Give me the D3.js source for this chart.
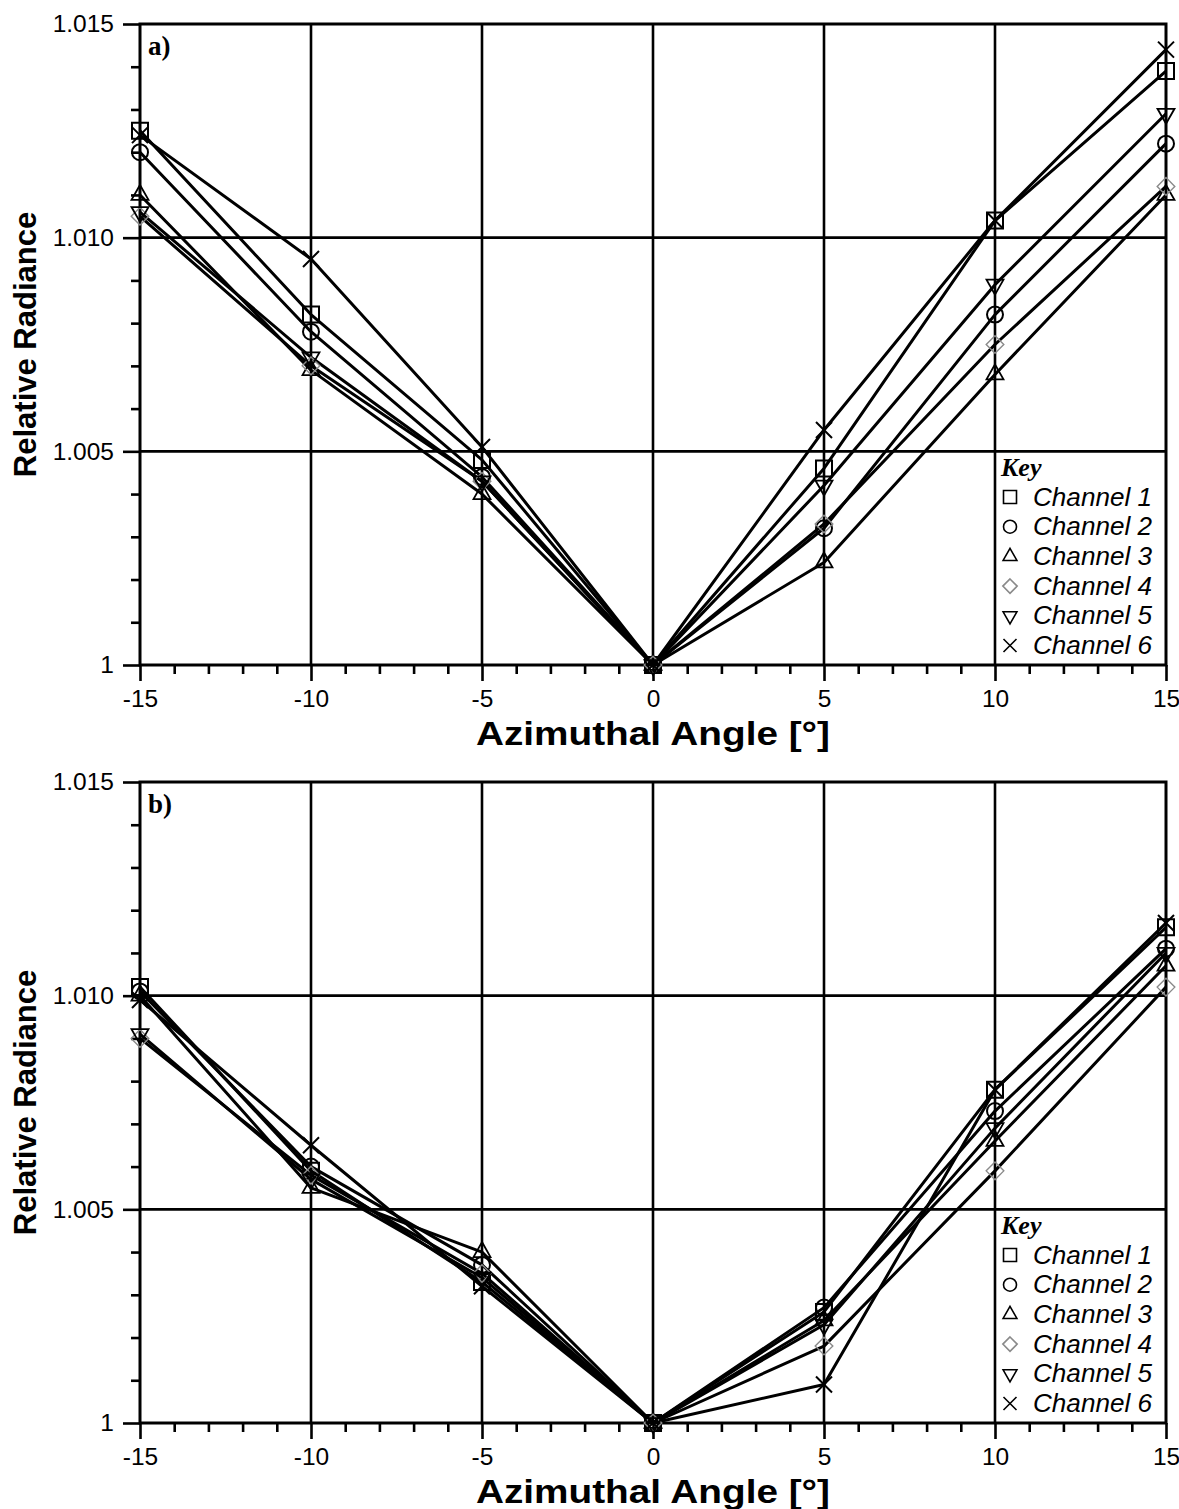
<!DOCTYPE html>
<html>
<head>
<meta charset="utf-8">
<script src="https://cdn.jsdelivr.net/npm/d3@7"></script>
<style>
  body { margin: 0; background: #fff; }
  svg { display: block; }
</style>
</head>
<body>
<svg id="chart" width="1179" height="1509"></svg>
<script>
// Azimuthal angle samples (degrees)
const angles = [-15, -10, -5, 0, 5, 10, 15];
const channelNames = ["Channel 1", "Channel 2", "Channel 3", "Channel 4", "Channel 5", "Channel 6"];

// Panel a) relative radiance per channel
const aChannel1 = [1.0125, 1.0082, 1.0048, 1, 1.0046, 1.0104, 1.0139];
const aChannel2 = [1.0120, 1.0078, 1.0044, 1, 1.0032, 1.0082, 1.0122];
const aChannel3 = [1.0110, 1.0069, 1.0040, 1, 1.0024, 1.0068, 1.0110];
const aChannel4 = [1.0105, 1.0070, 1.0043, 1, 1.0033, 1.0075, 1.0112];
const aChannel5 = [1.0106, 1.0072, 1.0043, 1, 1.0042, 1.0089, 1.0129];
const aChannel6 = [1.0124, 1.0095, 1.0051, 1, 1.0055, 1.0104, 1.0144];

// Panel b) relative radiance per channel
const bChannel1 = [1.0102, 1.0059, 1.0033, 1, 1.0026, 1.0078, 1.0116];
const bChannel2 = [1.0101, 1.0060, 1.0037, 1, 1.0027, 1.0073, 1.0111];
const bChannel3 = [1.0100, 1.0055, 1.0040, 1, 1.0024, 1.0066, 1.0107];
const bChannel4 = [1.0090, 1.0058, 1.0035, 1, 1.0018, 1.0059, 1.0102];
const bChannel5 = [1.0091, 1.0057, 1.0034, 1, 1.0023, 1.0069, 1.0110];
const bChannel6 = [1.0099, 1.0065, 1.0032, 1, 1.0009, 1.0078, 1.0117];

// Axis ticks
const xMajorTicks = [-15, -10, -5, 0, 5, 10, 15];
const xTickLabels = ["-15", "-10", "-5", "0", "5", "10", "15"];
const xMinorTicks = d3.range(-15, 16, 1).filter(v => v % 5 !== 0);
const yMajorTicks = [1, 1.005, 1.010, 1.015];
const yTickLabels = ["1", "1.005", "1.010", "1.015"];
const yMinorTicks = d3.range(1, 15).filter(i => i % 5 !== 0).map(i => 1 + i * 0.001);

const SANS = "'Liberation Sans', Arial, Helvetica, sans-serif";
const SERIF = "'Liberation Serif', 'Times New Roman', serif";

// Marker shapes, centred on (0,0)
const markerPath = {
  square: r => `M${-r},${-r}H${r}V${r}H${-r}Z`,
  circle: r => `M${r},0A${r},${r} 0 1,1 ${-r},0A${r},${r} 0 1,1 ${r},0Z`,
  triUp: r => `M0,${-1.25 * r}L${1.06 * r},${0.62 * r}L${-1.06 * r},${0.62 * r}Z`,
  diamond: r => `M0,${-1.1 * r}L${1.1 * r},0L0,${1.1 * r}L${-1.1 * r},0Z`,
  triDown: r => `M0,${1.25 * r}L${1.06 * r},${-0.62 * r}L${-1.06 * r},${-0.62 * r}Z`,
  cross: r => `M${-r},${-r}L${r},${r}M${r},${-r}L${-r},${r}`
};
const markerKinds = ["square", "circle", "triUp", "diamond", "triDown", "cross"];
const markerColor = ["#000", "#000", "#000", "#8a8a8a", "#000", "#000"];
const markerWidth = [2, 2, 1.8, 1.4, 1.8, 2];

const svg = d3.select("#chart");
const left = 140, right = 1166;

function drawPanel(series, top, bottom, tag) {
  const x = d3.scaleLinear().domain([-15, 15]).range([left, right]);
  const y = d3.scaleLinear().domain([1, 1.015]).range([bottom, top]);
  const g = svg.append("g");

  // grid
  g.append("g").selectAll("line").data(yMajorTicks.slice(1, 3)).join("line")
    .attr("x1", left).attr("x2", right)
    .attr("y1", d => y(d)).attr("y2", d => y(d))
    .attr("stroke", "#000").attr("stroke-width", 2.6);
  g.append("g").selectAll("line").data(xMajorTicks.slice(1, 6)).join("line")
    .attr("y1", top).attr("y2", bottom)
    .attr("x1", d => x(d)).attr("x2", d => x(d))
    .attr("stroke", "#000").attr("stroke-width", 2.6);

  // axes
  const yAxis = g.append("g").attr("transform", `translate(${left},0)`)
    .call(d3.axisLeft(y).tickValues(yMajorTicks).tickSize(17).tickPadding(9)
      .tickFormat((d, i) => yTickLabels[i]));
  const yMinor = g.append("g").attr("transform", `translate(${left},0)`)
    .call(d3.axisLeft(y).tickValues(yMinorTicks).tickSize(9).tickFormat(""));
  const xAxis = g.append("g").attr("transform", `translate(0,${bottom})`)
    .call(d3.axisBottom(x).tickValues(xMajorTicks).tickSize(16).tickPadding(9)
      .tickFormat((d, i) => xTickLabels[i]));
  const xMinor = g.append("g").attr("transform", `translate(0,${bottom})`)
    .call(d3.axisBottom(x).tickValues(xMinorTicks).tickSize(9).tickFormat(""));
  [yAxis, yMinor, xAxis, xMinor].forEach(a => {
    a.select(".domain").remove();
    a.selectAll(".tick line").attr("stroke", "#000").attr("stroke-width", 2.6);
    a.selectAll("text").attr("font-family", SANS).attr("font-size", 24.5).attr("fill", "#000");
  });

  // frame
  g.append("rect").attr("x", left).attr("y", top)
    .attr("width", right - left).attr("height", bottom - top)
    .attr("fill", "none").attr("stroke", "#000").attr("stroke-width", 3);

  // series lines
  const line = d3.line().x((d, i) => x(angles[i])).y(d => y(d));
  g.append("g").selectAll("path").data(series).join("path")
    .attr("d", d => line(d))
    .attr("fill", "none").attr("stroke", "#000").attr("stroke-width", 3)
    .attr("stroke-linejoin", "round");

  // markers
  series.forEach((vals, k) => {
    g.append("g").selectAll("path").data(vals).join("path")
      .attr("transform", (d, i) => `translate(${x(angles[i])},${y(d)})`)
      .attr("d", markerPath[markerKinds[k]](8))
      .attr("fill", "none").attr("stroke", markerColor[k])
      .attr("stroke-width", markerWidth[k]);
  });

  // panel tag
  g.append("text").attr("x", left + 8).attr("y", top + 31)
    .attr("font-family", SERIF).attr("font-weight", "bold").attr("font-size", 27)
    .text(tag);

  // legend
  const lg = g.append("g");
  const keyY = bottom - 198;
  lg.append("text").attr("x", 1001).attr("y", keyY + 9)
    .attr("font-family", SERIF).attr("font-weight", "bold").attr("font-style", "italic")
    .attr("font-size", 26).text("Key");
  channelNames.forEach((name, k) => {
    const cy = keyY + 30 + k * 29.7;
    lg.append("path").attr("transform", `translate(1010,${cy})`)
      .attr("d", markerPath[markerKinds[k]](6.5))
      .attr("fill", "none").attr("stroke", markerColor[k]).attr("stroke-width", 1.6);
    lg.append("text").attr("x", 1033).attr("y", cy + 8.5)
      .attr("font-family", SANS).attr("font-style", "italic").attr("font-size", 25)
      .attr("textLength", 119).attr("lengthAdjust", "spacingAndGlyphs")
      .text(name);
  });

  // axis titles
  g.append("text").attr("x", (left + right) / 2).attr("y", bottom + 80)
    .attr("text-anchor", "middle").attr("font-family", SANS).attr("font-weight", "bold")
    .attr("font-size", 33).attr("textLength", 354).attr("lengthAdjust", "spacingAndGlyphs")
    .text("Azimuthal Angle [°]");
  g.append("text").attr("transform", `translate(36,${(top + bottom) / 2}) rotate(-90)`)
    .attr("text-anchor", "middle").attr("font-family", SANS).attr("font-weight", "bold")
    .attr("font-size", 31).text("Relative Radiance");
}

drawPanel([aChannel1, aChannel2, aChannel3, aChannel4, aChannel5, aChannel6], 24, 665, "a)");
drawPanel([bChannel1, bChannel2, bChannel3, bChannel4, bChannel5, bChannel6], 782, 1423, "b)");
</script>
</body>
</html>
